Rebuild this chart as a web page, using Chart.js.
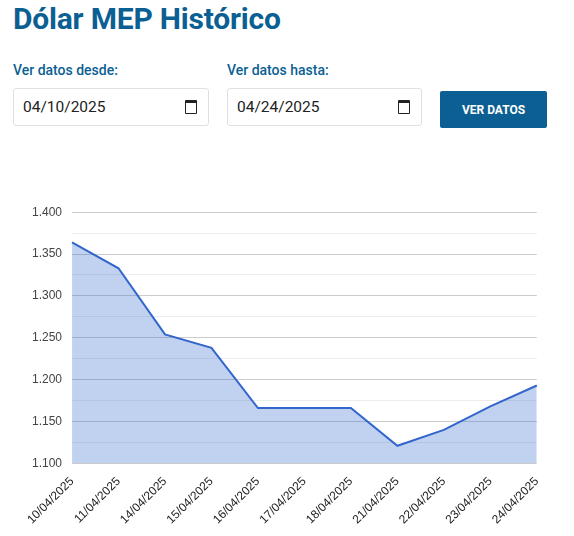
<!DOCTYPE html>
<html><head><meta charset="utf-8">
<script src="https://cdn.jsdelivr.net/npm/chart.js@4"></script>
<style>
body{margin:0;font-family:Roboto,"Noto Sans",sans-serif;background:#fff;width:574px;height:536px;overflow:hidden;position:relative}
h1{position:absolute;left:13px;top:1px;margin:0;font-size:30px;font-weight:700;color:#0b5f93;letter-spacing:-0.2px}
.lbl{position:absolute;top:62px;font-size:14px;font-weight:500;color:#0b5f93}
.inp{position:absolute;top:88px;height:38px;box-sizing:border-box;border:1px solid #e0e0e0;border-radius:3px;font-size:15.5px;padding:10px 8px 10px 9px;color:#222;display:flex;justify-content:space-between;align-items:center}
.ic{width:10px;height:10px;border:1.5px solid #222;border-top-width:3px;border-radius:1px;margin-right:3px}
.btn{position:absolute;left:440px;top:91px;width:107px;height:37px;background:#0b5f93;color:#fff;font-size:12px;font-weight:700;display:flex;align-items:center;justify-content:center;border-radius:2px}
#wrap{position:absolute;left:22px;top:195px;width:528px;height:335px}
</style></head><body>
<h1>Dólar MEP Histórico</h1>
<div class="lbl" style="left:13px">Ver datos desde:</div>
<div class="lbl" style="left:227px">Ver datos hasta:</div>
<div class="inp" style="left:13px;width:196px"><span>04/10/2025</span><span class="ic"></span></div>
<div class="inp" style="left:227px;width:195px"><span>04/24/2025</span><span class="ic"></span></div>
<div class="btn">VER DATOS</div>
<div id="wrap"><canvas id="c"></canvas></div>
<script>
const categories=["10/04/2025","11/04/2025","14/04/2025","15/04/2025","16/04/2025","17/04/2025","18/04/2025","21/04/2025","22/04/2025","23/04/2025","24/04/2025"];
const values=[1364,1333,1254,1238,1166,1166,1166,1121,1140,1168,1193];
const yMin=1100,yMax=1400,yStep=25;
new Chart(document.getElementById('c'),{type:'line',
data:{labels:categories,datasets:[{data:values,borderColor:'#3366cc',backgroundColor:'rgba(51,102,204,0.3)',fill:true,borderWidth:2,pointRadius:0,tension:0}]},
options:{responsive:true,maintainAspectRatio:false,animation:false,
plugins:{legend:{display:false},tooltip:{enabled:false}},
layout:{padding:{top:5,right:0}},
scales:{
x:{offset:false,grid:{display:false},border:{display:false},ticks:{maxRotation:45,minRotation:45,color:'#222',font:{family:'Arial',size:12}}},
y:{min:yMin,max:yMax,border:{display:false},
grid:{color:c=>c.tick.value%50===0?'#cccccc':'#ececec',drawTicks:false},
ticks:{stepSize:yStep,padding:10,color:'#444',font:{family:'Arial',size:12},callback:v=>v%50===0?(v/1000).toFixed(3):''}}}}});
</script></body></html>
